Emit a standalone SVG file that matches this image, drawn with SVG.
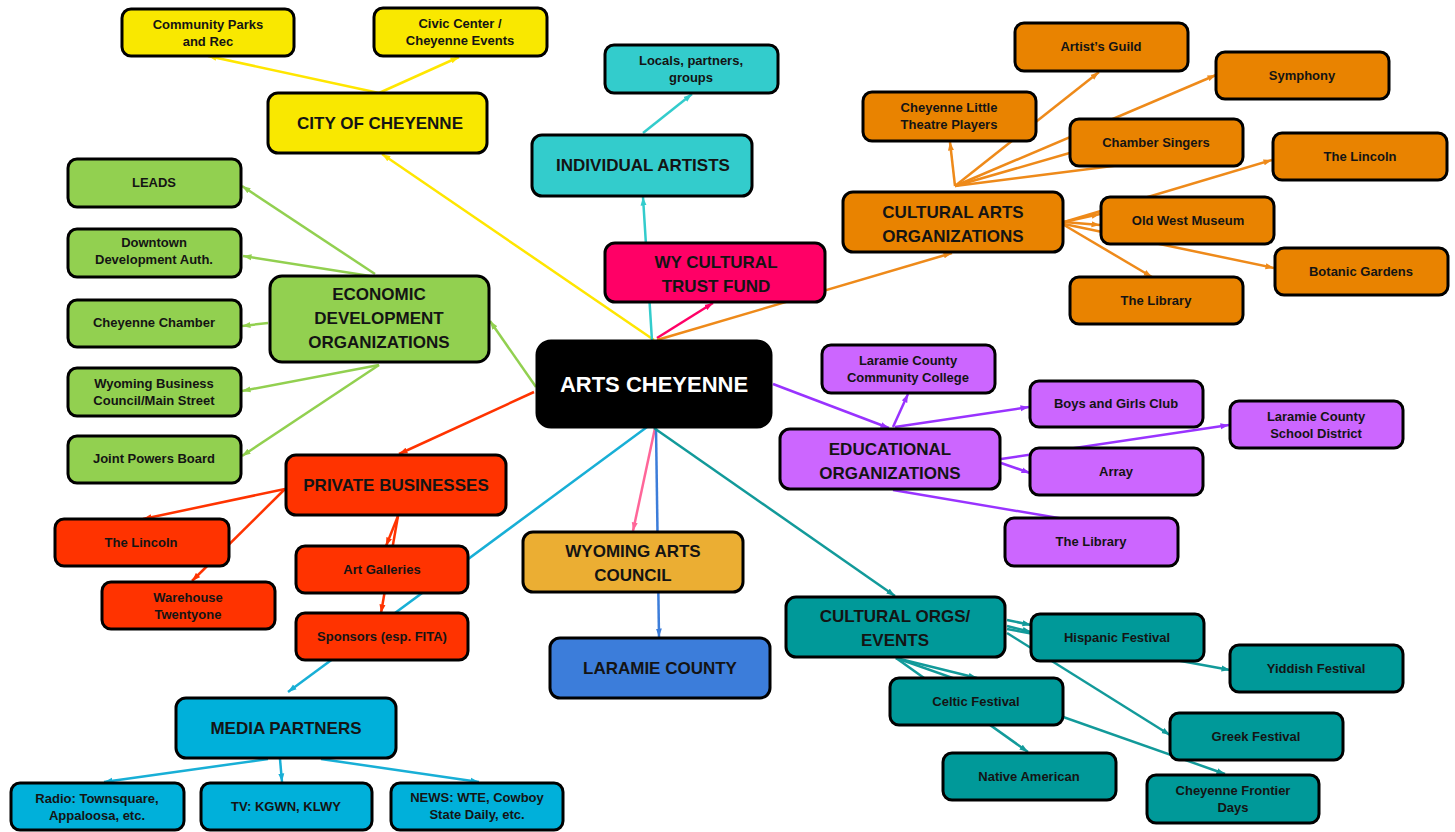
<svg xmlns="http://www.w3.org/2000/svg" width="1455" height="832" viewBox="0 0 1455 832">
<style>
.n rect{stroke:#000;stroke-width:3;}
.t{font-family:"Liberation Sans",Arial,sans-serif;font-weight:bold;fill:#141414;text-anchor:middle;}
.s{font-size:13px;}
.b{font-size:17px;}
.w{fill:#fff;font-size:22px;}
.c line{stroke-width:2.5;fill:none;}
</style>
<defs>
<marker id="aY" markerWidth="9" markerHeight="7" refX="8.5" refY="3.5" orient="auto" markerUnits="userSpaceOnUse"><path d="M0,0.5 L8.5,3.5 L0,6.5 z" fill="#FFE600"/></marker>
<marker id="aC" markerWidth="9" markerHeight="7" refX="8.5" refY="3.5" orient="auto" markerUnits="userSpaceOnUse"><path d="M0,0.5 L8.5,3.5 L0,6.5 z" fill="#33CCCC"/></marker>
<marker id="aP" markerWidth="9" markerHeight="7" refX="8.5" refY="3.5" orient="auto" markerUnits="userSpaceOnUse"><path d="M0,0.5 L8.5,3.5 L0,6.5 z" fill="#FF0066"/></marker>
<marker id="aO" markerWidth="9" markerHeight="7" refX="8.5" refY="3.5" orient="auto" markerUnits="userSpaceOnUse"><path d="M0,0.5 L8.5,3.5 L0,6.5 z" fill="#EE8A1A"/></marker>
<marker id="aV" markerWidth="9" markerHeight="7" refX="8.5" refY="3.5" orient="auto" markerUnits="userSpaceOnUse"><path d="M0,0.5 L8.5,3.5 L0,6.5 z" fill="#9933FF"/></marker>
<marker id="aG" markerWidth="9" markerHeight="7" refX="8.5" refY="3.5" orient="auto" markerUnits="userSpaceOnUse"><path d="M0,0.5 L8.5,3.5 L0,6.5 z" fill="#92D050"/></marker>
<marker id="aR" markerWidth="9" markerHeight="7" refX="8.5" refY="3.5" orient="auto" markerUnits="userSpaceOnUse"><path d="M0,0.5 L8.5,3.5 L0,6.5 z" fill="#FF3300"/></marker>
<marker id="aM" markerWidth="9" markerHeight="7" refX="8.5" refY="3.5" orient="auto" markerUnits="userSpaceOnUse"><path d="M0,0.5 L8.5,3.5 L0,6.5 z" fill="#18AFD6"/></marker>
<marker id="aK" markerWidth="9" markerHeight="7" refX="8.5" refY="3.5" orient="auto" markerUnits="userSpaceOnUse"><path d="M0,0.5 L8.5,3.5 L0,6.5 z" fill="#FF6699"/></marker>
<marker id="aB" markerWidth="9" markerHeight="7" refX="8.5" refY="3.5" orient="auto" markerUnits="userSpaceOnUse"><path d="M0,0.5 L8.5,3.5 L0,6.5 z" fill="#3C7DDA"/></marker>
<marker id="aT" markerWidth="9" markerHeight="7" refX="8.5" refY="3.5" orient="auto" markerUnits="userSpaceOnUse"><path d="M0,0.5 L8.5,3.5 L0,6.5 z" fill="#129A9A"/></marker>
</defs>
<rect width="1455" height="832" fill="#fff"/>
<g id="connectors" class="c">
<!-- yellow -->
<line x1="654" y1="340" x2="382" y2="154" stroke="#FFE600" marker-end="url(#aY)"/>
<line x1="379" y1="93" x2="208" y2="56" stroke="#FFE600" marker-end="url(#aY)"/>
<line x1="379" y1="93" x2="459" y2="57" stroke="#FFE600" marker-end="url(#aY)"/>
<!-- cyan -->
<line x1="652" y1="341" x2="643" y2="197" stroke="#33CCCC" marker-end="url(#aC)"/>
<line x1="643" y1="133" x2="692" y2="94" stroke="#33CCCC" marker-end="url(#aC)"/>
<!-- pink -->
<line x1="657" y1="338" x2="713" y2="303" stroke="#FF0066" marker-end="url(#aP)"/>
<!-- orange -->
<line x1="657" y1="340" x2="952" y2="253" stroke="#EE8A1A" marker-end="url(#aO)"/>
<line x1="955" y1="186" x2="950" y2="142" stroke="#EE8A1A" marker-end="url(#aO)"/>
<line x1="955" y1="186" x2="1099" y2="72" stroke="#EE8A1A" marker-end="url(#aO)"/>
<line x1="955" y1="186" x2="1216" y2="75" stroke="#EE8A1A" marker-end="url(#aO)"/>
<line x1="955" y1="186" x2="1080" y2="150" stroke="#EE8A1A"/>
<line x1="955" y1="186" x2="1160" y2="160" stroke="#EE8A1A"/>
<line x1="1064" y1="222" x2="1100" y2="214" stroke="#EE8A1A" marker-end="url(#aO)"/>
<line x1="1064" y1="222" x2="1100" y2="225" stroke="#EE8A1A" marker-end="url(#aO)"/>
<line x1="1064" y1="222" x2="1272" y2="160" stroke="#EE8A1A" marker-end="url(#aO)"/>
<line x1="1064" y1="224" x2="1274" y2="268" stroke="#EE8A1A" marker-end="url(#aO)"/>
<line x1="1064" y1="225" x2="1152" y2="277" stroke="#EE8A1A" marker-end="url(#aO)"/>
<!-- purple -->
<line x1="773" y1="384" x2="889" y2="428" stroke="#9933FF" marker-end="url(#aV)"/>
<line x1="893" y1="427" x2="908" y2="394" stroke="#9933FF" marker-end="url(#aV)"/>
<line x1="895" y1="427" x2="1029" y2="407" stroke="#9933FF" marker-end="url(#aV)"/>
<line x1="1001" y1="459" x2="1229" y2="425" stroke="#9933FF" marker-end="url(#aV)"/>
<line x1="1001" y1="463" x2="1030" y2="473" stroke="#9933FF" marker-end="url(#aV)"/>
<line x1="893" y1="490" x2="1082" y2="522" stroke="#9933FF"/>
<!-- green -->
<line x1="536" y1="387" x2="490" y2="321" stroke="#92D050" marker-end="url(#aG)"/>
<line x1="375" y1="274" x2="242" y2="186" stroke="#92D050" marker-end="url(#aG)"/>
<line x1="370" y1="276" x2="243" y2="256" stroke="#92D050" marker-end="url(#aG)"/>
<line x1="268" y1="323" x2="242" y2="326" stroke="#92D050" marker-end="url(#aG)"/>
<line x1="379" y1="365" x2="242" y2="391" stroke="#92D050" marker-end="url(#aG)"/>
<line x1="379" y1="365" x2="242" y2="456" stroke="#92D050" marker-end="url(#aG)"/>
<!-- red -->
<line x1="534" y1="392" x2="399" y2="454" stroke="#FF3300" marker-end="url(#aR)"/>
<line x1="285" y1="489" x2="143" y2="519" stroke="#FF3300" marker-end="url(#aR)"/>
<line x1="285" y1="489" x2="192" y2="581" stroke="#FF3300" marker-end="url(#aR)"/>
<line x1="398" y1="516" x2="386" y2="546" stroke="#FF3300" marker-end="url(#aR)"/>
<line x1="398" y1="516" x2="381" y2="613" stroke="#FF3300" marker-end="url(#aR)"/>
<!-- media blue -->
<line x1="647" y1="427" x2="288" y2="692" stroke="#18AFD6" marker-end="url(#aM)"/>
<line x1="268" y1="759" x2="104" y2="782" stroke="#18AFD6" marker-end="url(#aM)"/>
<line x1="280" y1="759" x2="282" y2="782" stroke="#18AFD6" marker-end="url(#aM)"/>
<line x1="321" y1="759" x2="479" y2="782" stroke="#18AFD6" marker-end="url(#aM)"/>
<!-- rose -->
<line x1="655" y1="428" x2="633" y2="531" stroke="#FF6699" marker-end="url(#aK)"/>
<!-- laramie blue -->
<line x1="656" y1="428" x2="659" y2="637" stroke="#3C7DDA" marker-end="url(#aB)"/>
<!-- teal -->
<line x1="654" y1="428" x2="895" y2="596" stroke="#129A9A" marker-end="url(#aT)"/>
<line x1="1007" y1="620" x2="1031" y2="625" stroke="#129A9A" marker-end="url(#aT)"/>
<line x1="1007" y1="626" x2="1031" y2="632" stroke="#129A9A" marker-end="url(#aT)"/>
<line x1="1007" y1="629" x2="1230" y2="670" stroke="#129A9A" marker-end="url(#aT)"/>
<line x1="1007" y1="633" x2="1170" y2="735" stroke="#129A9A" marker-end="url(#aT)"/>
<line x1="896" y1="658" x2="977" y2="678" stroke="#129A9A" marker-end="url(#aT)"/>
<line x1="896" y1="658" x2="1028" y2="752" stroke="#129A9A" marker-end="url(#aT)"/>
<line x1="896" y1="658" x2="1225" y2="774" stroke="#129A9A" marker-end="url(#aT)"/>
</g>

<g id="community-parks" class="n"><rect x="122" y="9" width="172" height="47" rx="9" fill="#F9E800"/><text class="t s" x="208" y="28.5">Community Parks</text><text class="t s" x="208" y="45.5">and Rec</text></g>
<g id="civic-center" class="n"><rect x="374" y="8" width="173" height="48" rx="9" fill="#F9E800"/><text class="t s" x="460" y="28">Civic Center /</text><text class="t s" x="460" y="45">Cheyenne Events</text></g>
<g id="city-of-cheyenne" class="n"><rect x="268" y="93" width="219" height="60" rx="10" fill="#F9E800"/><text class="t b" x="380" y="129">CITY OF CHEYENNE</text></g>

<g id="locals" class="n"><rect x="605" y="45" width="173" height="48" rx="9" fill="#33CCCC"/><text class="t s" x="691" y="65">Locals, partners,</text><text class="t s" x="691" y="82">groups</text></g>
<g id="individual-artists" class="n"><rect x="532" y="135" width="220" height="61" rx="10" fill="#33CCCC"/><text class="t b" x="643" y="171">INDIVIDUAL ARTISTS</text></g>
<g id="wy-cultural-trust" class="n"><rect x="605" y="243" width="220" height="59" rx="10" fill="#FF0066"/><text class="t b" x="716" y="268">WY CULTURAL</text><text class="t b" x="716" y="292">TRUST FUND</text></g>

<g id="little-theatre" class="n"><rect x="863" y="92" width="173" height="49" rx="9" fill="#E98300"/><text class="t s" x="949" y="112">Cheyenne Little</text><text class="t s" x="949" y="129">Theatre Players</text></g>
<g id="artists-guild" class="n"><rect x="1015" y="23" width="173" height="48" rx="9" fill="#E98300"/><text class="t s" x="1101" y="51">Artist’s Guild</text></g>
<g id="symphony" class="n"><rect x="1216" y="52" width="173" height="47" rx="9" fill="#E98300"/><text class="t s" x="1302" y="80">Symphony</text></g>
<g id="chamber-singers" class="n"><rect x="1070" y="119" width="173" height="47" rx="9" fill="#E98300"/><text class="t s" x="1156" y="147">Chamber Singers</text></g>
<g id="lincoln-orange" class="n"><rect x="1273" y="133" width="174" height="47" rx="9" fill="#E98300"/><text class="t s" x="1360" y="161">The Lincoln</text></g>
<g id="cultural-arts" class="n"><rect x="843" y="192" width="220" height="60" rx="10" fill="#E98300"/><text class="t b" x="953" y="218">CULTURAL ARTS</text><text class="t b" x="953" y="242">ORGANIZATIONS</text></g>
<g id="old-west" class="n"><rect x="1101" y="197" width="173" height="47" rx="9" fill="#E98300"/><text class="t s" x="1188" y="225">Old West Museum</text></g>
<g id="botanic" class="n"><rect x="1275" y="248" width="173" height="47" rx="9" fill="#E98300"/><text class="t s" x="1361" y="276">Botanic Gardens</text></g>
<g id="library-orange" class="n"><rect x="1070" y="277" width="173" height="47" rx="9" fill="#E98300"/><text class="t s" x="1156" y="305">The Library</text></g>

<g id="arts-cheyenne" class="n"><rect x="537" y="341" width="234" height="86" rx="14" fill="#000"/><text class="t w" x="654" y="392">ARTS CHEYENNE</text></g>

<g id="lccc" class="n"><rect x="822" y="345" width="173" height="48" rx="9" fill="#CC66FF"/><text class="t s" x="908" y="365">Laramie County</text><text class="t s" x="908" y="382">Community College</text></g>
<g id="educational" class="n"><rect x="780" y="429" width="220" height="60" rx="10" fill="#CC66FF"/><text class="t b" x="890" y="455">EDUCATIONAL</text><text class="t b" x="890" y="479">ORGANIZATIONS</text></g>
<g id="boys-girls" class="n"><rect x="1030" y="381" width="173" height="46" rx="9" fill="#CC66FF"/><text class="t s" x="1116" y="408">Boys and Girls Club</text></g>
<g id="lcsd" class="n"><rect x="1230" y="401" width="173" height="47" rx="9" fill="#CC66FF"/><text class="t s" x="1316" y="421">Laramie County</text><text class="t s" x="1316" y="438">School District</text></g>
<g id="array" class="n"><rect x="1030" y="448" width="173" height="47" rx="9" fill="#CC66FF"/><text class="t s" x="1116" y="476">Array</text></g>
<g id="library-purple" class="n"><rect x="1005" y="518" width="173" height="48" rx="9" fill="#CC66FF"/><text class="t s" x="1091" y="546">The Library</text></g>

<g id="leads" class="n"><rect x="68" y="159" width="173" height="48" rx="9" fill="#92D050"/><text class="t s" x="154" y="187">LEADS</text></g>
<g id="downtown" class="n"><rect x="68" y="229" width="173" height="48" rx="9" fill="#92D050"/><text class="t s" x="154" y="247">Downtown</text><text class="t s" x="154" y="264">Development Auth.</text></g>
<g id="cheyenne-chamber" class="n"><rect x="68" y="300" width="173" height="47" rx="9" fill="#92D050"/><text class="t s" x="154" y="327">Cheyenne Chamber</text></g>
<g id="wbc" class="n"><rect x="68" y="368" width="173" height="48" rx="9" fill="#92D050"/><text class="t s" x="154" y="388">Wyoming Business</text><text class="t s" x="154" y="405">Council/Main Street</text></g>
<g id="joint-powers" class="n"><rect x="68" y="436" width="173" height="47" rx="9" fill="#92D050"/><text class="t s" x="154" y="463">Joint Powers Board</text></g>
<g id="economic" class="n"><rect x="270" y="276" width="219" height="86" rx="12" fill="#92D050"/><text class="t b" x="379" y="300">ECONOMIC</text><text class="t b" x="379" y="324">DEVELOPMENT</text><text class="t b" x="379" y="348">ORGANIZATIONS</text></g>

<g id="private-businesses" class="n"><rect x="286" y="455" width="220" height="60" rx="10" fill="#FF3300"/><text class="t b" x="396" y="491">PRIVATE BUSINESSES</text></g>
<g id="lincoln-red" class="n"><rect x="55" y="519" width="174" height="47" rx="9" fill="#FF3300"/><text class="t s" x="141" y="547">The Lincoln</text></g>
<g id="warehouse" class="n"><rect x="102" y="582" width="173" height="47" rx="9" fill="#FF3300"/><text class="t s" x="188" y="602">Warehouse</text><text class="t s" x="188" y="619">Twentyone</text></g>
<g id="art-galleries" class="n"><rect x="296" y="546" width="172" height="47" rx="9" fill="#FF3300"/><text class="t s" x="382" y="574">Art Galleries</text></g>
<g id="sponsors" class="n"><rect x="296" y="613" width="172" height="47" rx="9" fill="#FF3300"/><text class="t s" x="382" y="641">Sponsors (esp. FITA)</text></g>

<g id="media-partners" class="n"><rect x="176" y="698" width="220" height="60" rx="10" fill="#00B0DA"/><text class="t b" x="286" y="734">MEDIA PARTNERS</text></g>
<g id="radio" class="n"><rect x="11" y="783" width="173" height="47" rx="9" fill="#00B0DA"/><text class="t s" x="97" y="803">Radio: Townsquare,</text><text class="t s" x="97" y="820">Appaloosa, etc.</text></g>
<g id="tv" class="n"><rect x="201" y="783" width="171" height="47" rx="9" fill="#00B0DA"/><text class="t s" x="286" y="811">TV: KGWN, KLWY</text></g>
<g id="news" class="n"><rect x="391" y="783" width="172" height="47" rx="9" fill="#00B0DA"/><text class="t s" x="477" y="802">NEWS: WTE, Cowboy</text><text class="t s" x="477" y="819">State Daily, etc.</text></g>

<g id="wyoming-arts-council" class="n"><rect x="523" y="532" width="220" height="60" rx="10" fill="#EBAE33"/><text class="t b" x="633" y="557">WYOMING ARTS</text><text class="t b" x="633" y="581">COUNCIL</text></g>
<g id="laramie-county" class="n"><rect x="550" y="638" width="220" height="60" rx="10" fill="#3C7DDA"/><text class="t b" x="660" y="674">LARAMIE COUNTY</text></g>

<g id="cultural-orgs" class="n"><rect x="786" y="597" width="219" height="60" rx="10" fill="#009999"/><text class="t b" x="895" y="622">CULTURAL ORGS/</text><text class="t b" x="895" y="646">EVENTS</text></g>
<g id="hispanic" class="n"><rect x="1031" y="614" width="173" height="47" rx="9" fill="#009999"/><text class="t s" x="1117" y="642">Hispanic Festival</text></g>
<g id="yiddish" class="n"><rect x="1230" y="645" width="173" height="47" rx="9" fill="#009999"/><text class="t s" x="1316" y="673">Yiddish Festival</text></g>
<g id="celtic" class="n"><rect x="890" y="678" width="173" height="47" rx="9" fill="#009999"/><text class="t s" x="976" y="706">Celtic Festival</text></g>
<g id="greek" class="n"><rect x="1170" y="713" width="173" height="47" rx="9" fill="#009999"/><text class="t s" x="1256" y="741">Greek Festival</text></g>
<g id="native-american" class="n"><rect x="943" y="753" width="173" height="47" rx="9" fill="#009999"/><text class="t s" x="1029" y="781">Native American</text></g>
<g id="frontier-days" class="n"><rect x="1147" y="775" width="172" height="48" rx="9" fill="#009999"/><text class="t s" x="1233" y="795">Cheyenne Frontier</text><text class="t s" x="1233" y="812">Days</text></g>
</svg>
